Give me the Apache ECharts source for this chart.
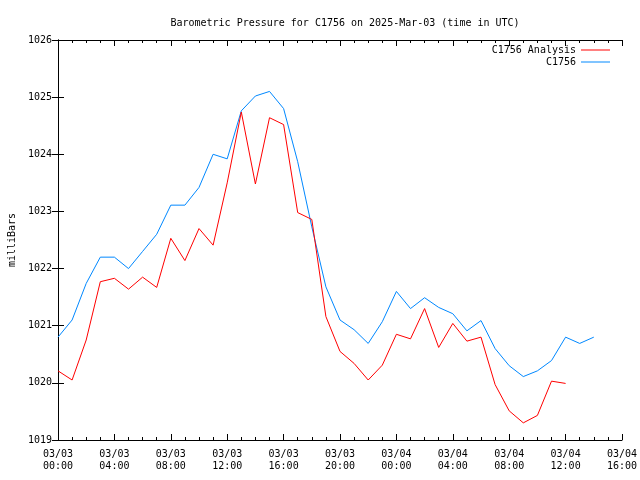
<!DOCTYPE html>
<html>
<head>
<meta charset="utf-8">
<script src="https://cdn.jsdelivr.net/npm/echarts@6/dist/echarts.min.js"></script>
<style>html,body{margin:0;padding:0;background:#fff;}#c{width:640px;height:480px;}</style>
</head>
<body>
<div id="c"></div>
<script>
// Hours since 2025-03-03 00:00 UTC (index = hour)
const analysisValues = [1020.21, 1020.05, 1020.75, 1021.77, 1021.83, 1021.64, 1021.85, 1021.67, 1022.53, 1022.14, 1022.70, 1022.41, 1023.50, 1024.74, 1023.48, 1024.64, 1024.52, 1022.98, 1022.86, 1021.16, 1020.55, 1020.34, 1020.05, 1020.31, 1020.85, 1020.77, 1021.30, 1020.62, 1021.04, 1020.73, 1020.80, 1019.97, 1019.51, 1019.30, 1019.43, 1020.03, 1019.99];
const stationValues = [1020.80, 1021.10, 1021.74, 1022.20, 1022.20, 1022.00, 1022.30, 1022.60, 1023.11, 1023.11, 1023.42, 1024.00, 1023.92, 1024.76, 1025.02, 1025.10, 1024.80, 1023.87, 1022.73, 1021.68, 1021.10, 1020.93, 1020.69, 1021.07, 1021.60, 1021.30, 1021.49, 1021.32, 1021.21, 1020.91, 1021.09, 1020.60, 1020.30, 1020.11, 1020.21, 1020.39, 1020.80, 1020.69, 1020.80];
const xTickLabels = ['03/03\n00:00', '03/03\n04:00', '03/03\n08:00', '03/03\n12:00', '03/03\n16:00', '03/03\n20:00', '03/04\n00:00', '03/04\n04:00', '03/04\n08:00', '03/04\n12:00', '03/04\n16:00'];
const seriesNames = ['C1756 Analysis', 'C1756'];

const FONT = 'DejaVu Sans Mono';
const chart = echarts.init(document.getElementById('c'), null, {renderer: 'canvas'});

function xAxisBase(pos, showLabel) {
  return {
    type: 'value', position: pos, min: 0, max: 40, interval: 4,
    axisLine: {show: true, lineStyle: {color: '#000', width: 1}},
    axisTick: {show: true, inside: true, length: 6, lineStyle: {color: '#000'}},
    minorTick: {show: true, splitNumber: 4, length: 3, lineStyle: {color: '#000'}},
    splitLine: {show: false}, minorSplitLine: {show: false},
    axisLabel: {
      show: showLabel, margin: 8, fontFamily: FONT, fontSize: 10, color: '#000', lineHeight: 12,
      formatter: v => xTickLabels[Math.round(v / 4)] || ''
    }
  };
}
function yAxisBase(pos, showLabel) {
  return {
    type: 'value', position: pos, min: 1019, max: 1026, interval: 1,
    axisLine: {show: true, lineStyle: {color: '#000', width: 1}},
    axisTick: {show: true, inside: true, length: 6, lineStyle: {color: '#000'}},
    splitLine: {show: false},
    axisLabel: {show: showLabel, margin: 6, fontFamily: FONT, fontSize: 10, color: '#000',
      formatter: v => String(v)},
    name: showLabel ? 'milliBars' : '',
    nameLocation: 'middle', nameRotate: 90, nameGap: 41,
    nameTextStyle: {fontFamily: FONT, fontSize: 10, color: '#000'}
  };
}

chart.setOption({
  backgroundColor: '#fff',
  animation: false,
  title: {
    text: 'Barometric Pressure for C1756 on 2025-Mar-03 (time in UTC)',
    left: 340, top: 13, textAlign: 'center',
    textStyle: {fontFamily: FONT, fontSize: 10, fontWeight: 'normal', color: '#000'}
  },
  grid: {left: 58, right: 18, top: 40, bottom: 40, containLabel: false, outerBoundsMode: 'none'},
  legend: {
    data: seriesNames,
    orient: 'vertical', right: 30, top: 44, align: 'right',
    icon: 'rect', itemWidth: 29, itemHeight: 1, itemGap: 0,
    padding: 0,
    textStyle: {fontFamily: FONT, fontSize: 10, color: '#000', lineHeight: 12}
  },
  xAxis: [xAxisBase('bottom', true), xAxisBase('top', false)],
  yAxis: [yAxisBase('left', true), yAxisBase('right', false)],
  series: [
    {
      name: seriesNames[1], type: 'line', showSymbol: false, symbol: 'none',
      lineStyle: {color: '#0088ff', width: 1}, itemStyle: {color: '#0088ff'},
      data: stationValues.map((v, i) => [i, v])
    },
    {
      name: seriesNames[0], type: 'line', showSymbol: false, symbol: 'none',
      lineStyle: {color: '#ff0000', width: 1}, itemStyle: {color: '#ff0000'},
      data: analysisValues.map((v, i) => [i, v])
    }
  ]
});
</script>
</body>
</html>
